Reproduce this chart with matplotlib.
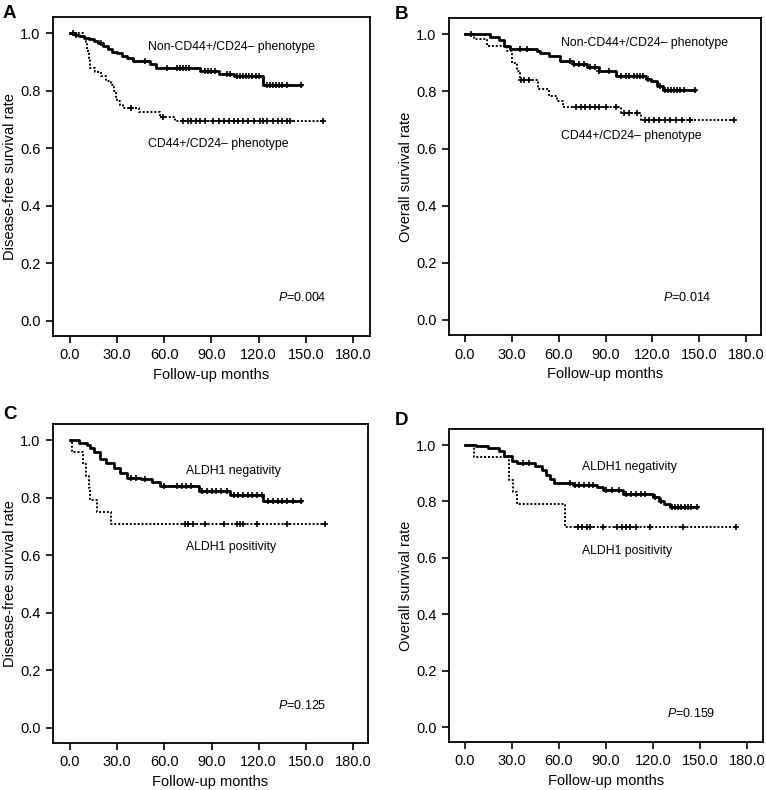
import numpy as np
import matplotlib
matplotlib.use("Agg")
import matplotlib.pyplot as plt

plt.rcParams["font.family"] = ["Liberation Sans", "DejaVu Sans"]
plt.rcParams["mathtext.fontset"] = "custom"
plt.rcParams["mathtext.rm"] = "Liberation Sans"
plt.rcParams["mathtext.it"] = "Liberation Sans:italic"

# ── Kaplan-Meier step data ───────────────────────────────────────────────────
# Panel A: disease-free survival, CD44+/CD24- phenotype
a_neg_t = [0, 3, 6, 9, 12, 15, 18, 21, 24, 27, 30, 33, 36, 40, 51, 55, 83, 95, 104, 123]
a_neg_s = [1.0, 0.995, 0.99, 0.985, 0.98, 0.975, 0.965, 0.955, 0.945, 0.935,
           0.93, 0.92, 0.915, 0.905, 0.895, 0.88, 0.87, 0.86, 0.85, 0.82]
a_neg_end = 147
a_neg_cens = [2, 4, 20, 48, 62, 68, 70, 72, 74, 76, 86, 88, 90, 92, 100, 102, 106, 108,
              110, 112, 114, 116, 118, 120, 125, 127, 129, 131, 133, 135, 138, 147]
a_pos_t = [0, 8, 10, 11, 12, 13, 16, 20, 23, 26, 28, 29, 30, 32, 34, 44, 57, 67]
a_pos_s = [1.0, 0.985, 0.97, 0.94, 0.91, 0.88, 0.865, 0.85, 0.835, 0.82, 0.80,
           0.78, 0.765, 0.75, 0.74, 0.725, 0.71, 0.695]
a_pos_end = 161
a_pos_cens = [39, 59, 72, 75, 77, 80, 83, 86, 91, 95, 98, 101, 104, 107, 110, 113,
              117, 121, 123, 125, 129, 132, 135, 138, 140, 161]

# Panel B: overall survival, CD44+/CD24- phenotype
b_neg_t = [0, 16, 22, 25, 29, 46, 48, 54, 61, 69, 78, 86, 97, 116, 119, 123, 127]
b_neg_s = [1.0, 0.99, 0.98, 0.96, 0.95, 0.94, 0.935, 0.925, 0.905, 0.895, 0.885,
           0.87, 0.855, 0.845, 0.835, 0.82, 0.805]
b_neg_end = 147
b_neg_cens = [4, 35, 40, 67, 70, 73, 76, 80, 83, 86, 92, 100, 103, 105, 108, 110, 112,
              114, 117, 125, 128, 130, 132, 134, 136, 138, 140, 147]
b_pos_t = [0, 6, 14, 27, 30, 33, 35, 47, 54, 59, 63, 100, 113]
b_pos_s = [1.0, 0.985, 0.96, 0.94, 0.90, 0.87, 0.84, 0.81, 0.785, 0.765, 0.745,
           0.725, 0.70]
b_pos_end = 172
b_pos_cens = [36, 38, 41, 71, 74, 77, 80, 83, 86, 90, 97, 102, 105, 110, 115, 118,
              121, 124, 128, 131, 135, 139, 144, 172]

# Panel C: disease-free survival, ALDH1
c_neg_t = [0, 6, 11, 13, 15, 19, 23, 28, 32, 36, 45, 52, 57, 82, 102, 123]
c_neg_s = [1.0, 0.99, 0.985, 0.975, 0.96, 0.935, 0.92, 0.905, 0.885, 0.87, 0.865,
           0.855, 0.84, 0.825, 0.81, 0.79]
c_neg_end = 147
c_neg_cens = [39, 42, 48, 60, 68, 71, 74, 77, 84, 87, 90, 93, 96, 100, 104, 107,
              110, 113, 116, 119, 122, 126, 129, 132, 135, 138, 142, 147]
c_pos_t = [0, 1, 8, 10, 12, 13, 17, 26]
c_pos_s = [1.0, 0.958, 0.917, 0.875, 0.833, 0.792, 0.75, 0.708]
c_pos_end = 162
c_pos_cens = [73, 75, 78, 86, 98, 106, 108, 110, 119, 138, 162]

# Panel D: overall survival, ALDH1
d_neg_t = [0, 7, 15, 22, 25, 30, 33, 45, 49, 52, 54, 57, 69, 84, 88, 101, 120, 124,
           127, 131]
d_neg_s = [1.0, 0.995, 0.99, 0.98, 0.96, 0.945, 0.935, 0.925, 0.91, 0.895, 0.88,
           0.865, 0.86, 0.85, 0.84, 0.825, 0.815, 0.80, 0.79, 0.78]
d_neg_end = 148
d_neg_cens = [37, 41, 67, 70, 73, 76, 79, 82, 90, 94, 98, 103, 106, 109, 112, 115,
              121, 125, 132, 134, 136, 138, 140, 142, 144, 148]
d_pos_t = [0, 6, 28, 31, 33, 64]
d_pos_s = [1.0, 0.958, 0.875, 0.833, 0.79, 0.71]
d_pos_end = 173
d_pos_cens = [72, 75, 78, 80, 88, 97, 100, 103, 105, 109, 118, 139, 173]

x_ticks = [0, 30, 60, 90, 120, 150, 180]
x_tick_labels = ["0.0", "30.0", "60.0", "90.0", "120.0", "150.0", "180.0"]
y_ticks = [0.0, 0.2, 0.4, 0.6, 0.8, 1.0]
y_tick_labels = ["0.0", "0.2", "0.4", "0.6", "0.8", "1.0"]

panels = [
    dict(letter="A", ylabel="Disease-free survival rate",
         neg=(a_neg_t, a_neg_s, a_neg_end, a_neg_cens),
         pos=(a_pos_t, a_pos_s, a_pos_end, a_pos_cens),
         neg_txt="Non-CD44+/CD24\u2013 phenotype", pos_txt="CD44+/CD24\u2013 phenotype",
         neg_xy=(49.6, 0.951), pos_xy=(49.6, 0.615), p="0.004", p_xy=(132, 0.08),
         rect=[0.0692, 0.5747, 0.4138, 0.4038], xlim=(-10.8, 190.8)),
    dict(letter="B", ylabel="Overall survival rate",
         neg=(b_neg_t, b_neg_s, b_neg_end, b_neg_cens),
         pos=(b_pos_t, b_pos_s, b_pos_end, b_pos_cens),
         neg_txt="Non-CD44+/CD24\u2013 phenotype", pos_txt="CD44+/CD24\u2013 phenotype",
         neg_xy=(61.5, 0.969), pos_xy=(61.5, 0.643), p="0.014", p_xy=(126.8, 0.078),
         rect=[0.5862, 0.5759, 0.4073, 0.4013], xlim=(-10.25, 189.6)),
    dict(letter="C", ylabel="Disease-free survival rate",
         neg=(c_neg_t, c_neg_s, c_neg_end, c_neg_cens),
         pos=(c_pos_t, c_pos_s, c_pos_end, c_pos_cens),
         neg_txt="ALDH1 negativity", pos_txt="ALDH1 positivity",
         neg_xy=(73.8, 0.893), pos_xy=(73.8, 0.628), p="0.125", p_xy=(132, 0.077),
         rect=[0.0692, 0.0595, 0.4112, 0.4038], xlim=(-10.8, 189.5)),
    dict(letter="D", ylabel="Overall survival rate",
         neg=(d_neg_t, d_neg_s, d_neg_end, d_neg_cens),
         pos=(d_pos_t, d_pos_s, d_pos_end, d_pos_cens),
         neg_txt="ALDH1 negativity", pos_txt="ALDH1 positivity",
         neg_xy=(75, 0.923), pos_xy=(75, 0.625), p="0.159", p_xy=(129, 0.049),
         rect=[0.5862, 0.0608, 0.4099, 0.3962], xlim=(-10.0, 190.0)),
]

# panel letter positions (figure pixels, top-left of glyph)
letter_px = {"A": (3, 5), "B": (395, 6), "C": (3, 406), "D": (395, 412)}


def draw_km(ax, t, s, end, cens, ls, lw):
    tt = list(t) + [end]
    ss = list(s) + [s[-1]]
    ax.step(tt, ss, where="post", color="black", linestyle=ls, linewidth=lw)
    idx = np.searchsorted(np.array(t), np.array(cens), side="right") - 1
    cy = np.array(s)[idx]
    ax.plot(cens, cy, linestyle="none", marker="+", color="black",
            markersize=5, markeredgewidth=1.2)


W, H = 766, 790
fig = plt.figure(figsize=(W / 100, H / 100), dpi=100)

for p in panels:
    ax = fig.add_axes(p["rect"])
    draw_km(ax, *p["neg"], ls="-", lw=2.0)
    draw_km(ax, *p["pos"], ls=(0, (1, 1)), lw=1.4)

    ax.set_xlim(*p["xlim"])
    ax.set_ylim(-0.053, 1.057)
    ax.set_xticks(x_ticks)
    ax.set_xticklabels(x_tick_labels)
    ax.set_yticks(y_ticks)
    ax.set_yticklabels(y_tick_labels)
    ax.tick_params(direction="out", length=5, width=1.2, labelsize=10.5, pad=4)
    for sp in ax.spines.values():
        sp.set_linewidth(1.3)
    ax.set_xlabel("Follow-up months", fontsize=10.5)
    ax.set_ylabel(p["ylabel"], fontsize=10.5)
    w_px = p["rect"][2] * W
    h_px = p["rect"][3] * H
    ax.xaxis.set_label_coords(0.5, -32 / h_px)
    ax.yaxis.set_label_coords(-36 / w_px, 0.5)

    ax.text(*p["neg_xy"], p["neg_txt"], fontsize=8.8, ha="left", va="center")
    ax.text(*p["pos_xy"], p["pos_txt"], fontsize=8.8, ha="left", va="center")
    ax.text(*p["p_xy"], "$P$=" + p["p"], fontsize=9, ha="left", va="center")

    lx, ly = letter_px[p["letter"]]
    fig.text(lx / W, 1 - ly / H, p["letter"], fontsize=13.5,
             fontweight="bold", ha="left", va="top")

fig.savefig("out.png", dpi=100)
